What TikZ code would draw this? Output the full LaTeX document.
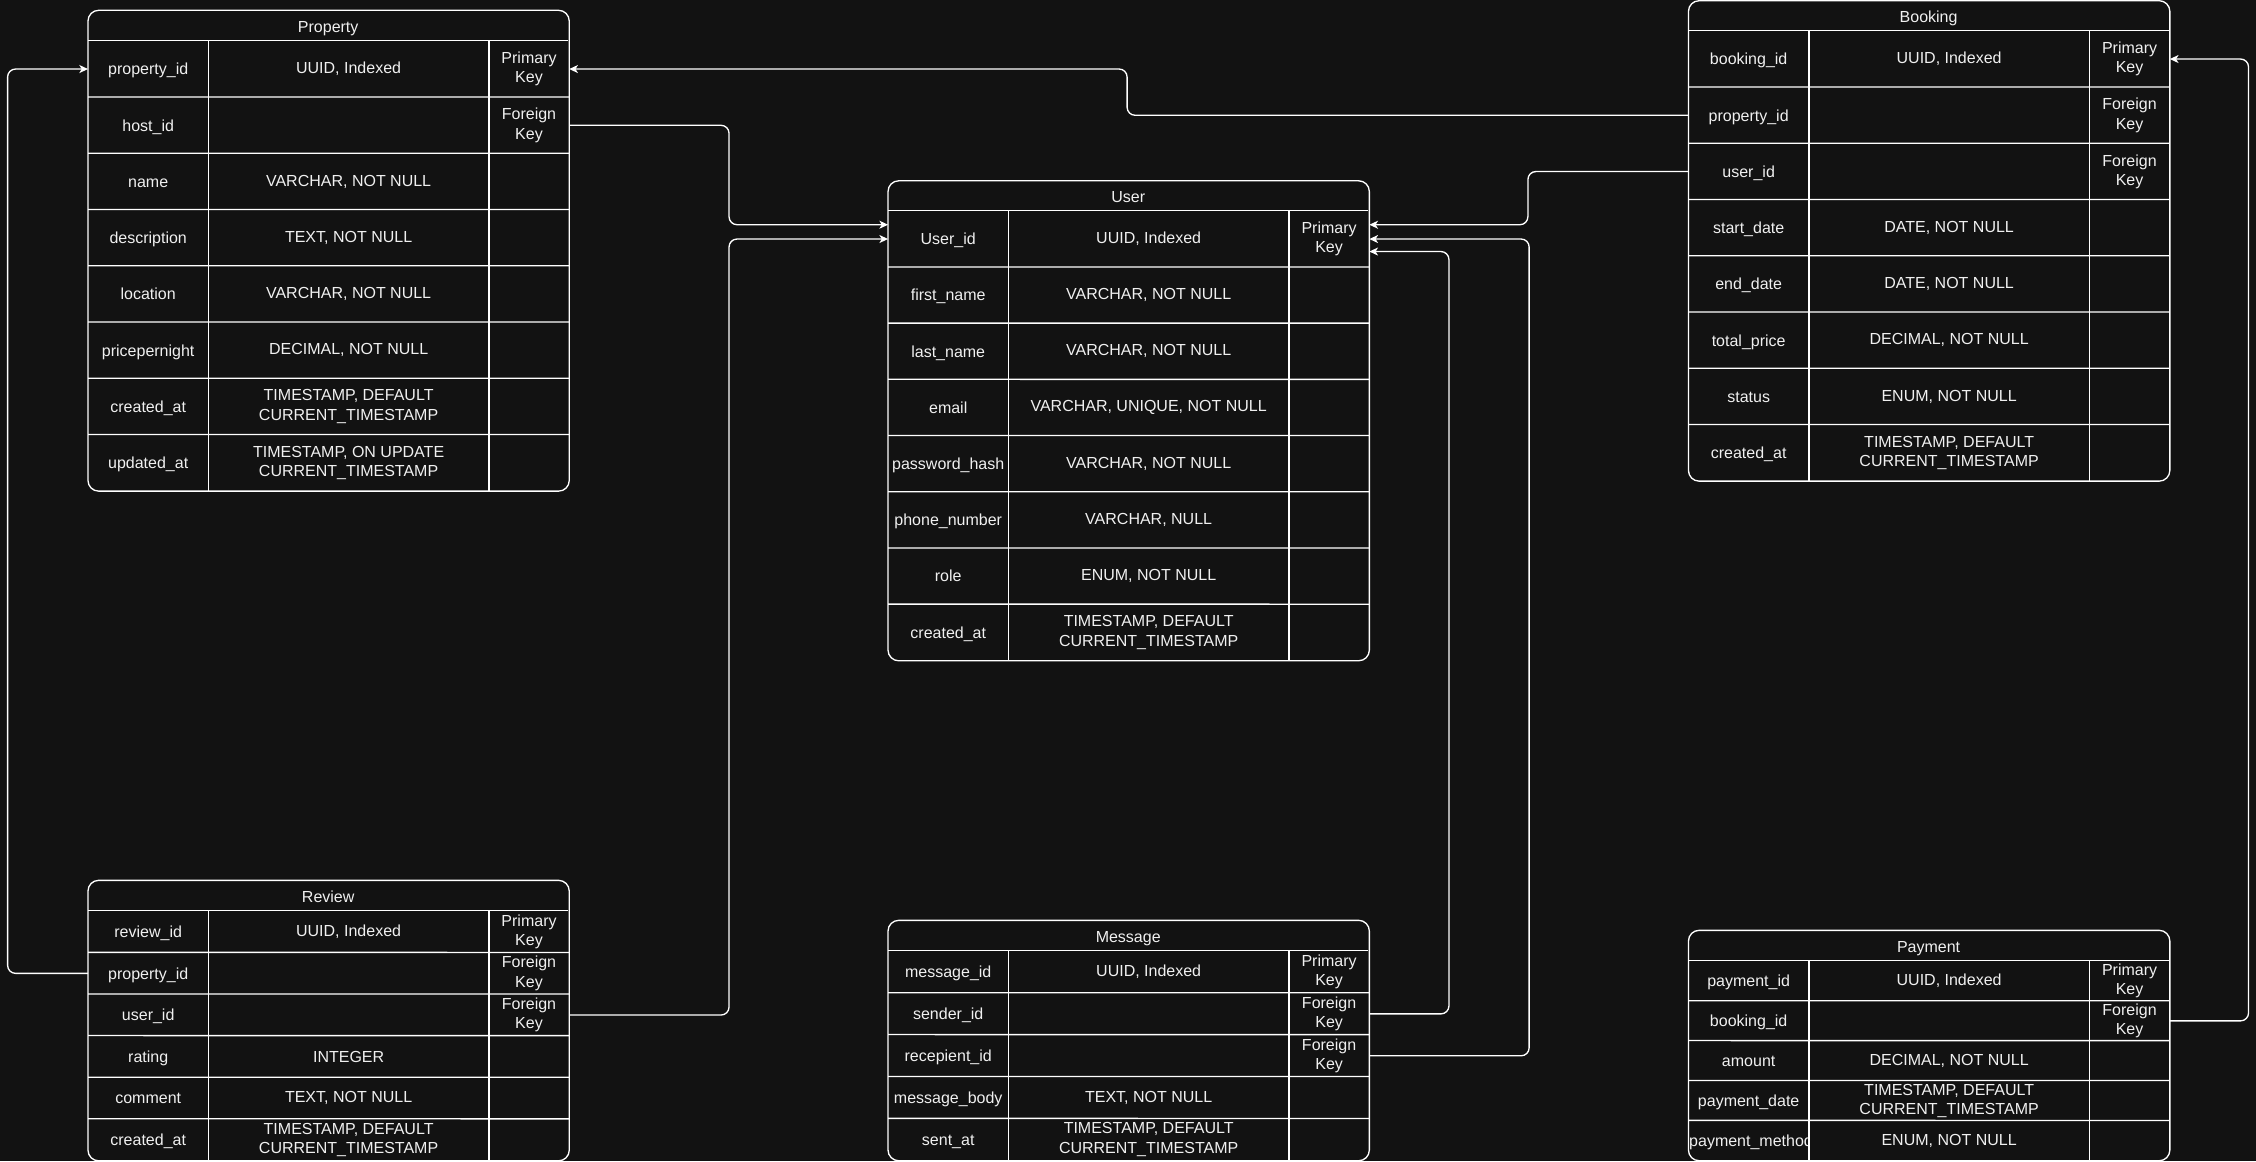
\documentclass[tikz,border=0pt]{standalone}
\usepackage{fontspec}
\setmainfont{Liberation Sans}
\usepackage{tikz}
\usetikzlibrary{arrows,arrows.meta,positioning,calc}
\usepackage{xcolor}
\definecolor{erdbg}{RGB}{18,18,18}
\definecolor{erdtext}{RGB}{240,240,240}
\tikzstyle{tableline} = [draw=white, line width=1pt]
\tikzstyle{tabletitle} = [minimum width=480pt, minimum height=30pt, inner sep=0pt, text height=13.4pt, text depth=0pt, text=erdtext, font=\fontsize{16}{19.2}\selectfont]
\tikzstyle{fieldname} = [minimum width=120pt, inner sep=0pt, align=center, text=erdtext, font=\fontsize{16}{19.2}\selectfont]
\tikzstyle{fieldtype} = [fieldname, minimum width=280pt]
\tikzstyle{fieldkey} = [fieldname, minimum width=80pt]
\tikzstyle{oneline} = [text height=11.5pt, text depth=0pt]
\tikzstyle{fklink} = [line width=1pt, white, ->, >={Stealth[length=6.5pt, width=6pt, inset=1.8pt]}, rounded corners=6pt]

\begin{document}
\begin{tikzpicture}[x=1pt, y=-1pt, scale=0.75, transform shape]
\fill[erdbg] (0,0) rectangle (2256,1161);
\useasboundingbox (0,0) rectangle (2256,1161);

% Property
\node (Ph) [tabletitle, anchor=north west] at (88,10.3) {Property};
\foreach \f/\t/\k [count=\i] in {property\_id/{UUID, Indexed}/{Primary\\Key}, host\_id/{}/{Foreign\\Key}, name/{VARCHAR, NOT NULL}/{}, description/{TEXT, NOT NULL}/{}, location/{VARCHAR, NOT NULL}/{}, pricepernight/{DECIMAL, NOT NULL}/{}, created\_at/{TIMESTAMP, DEFAULT\\CURRENT\_TIMESTAMP}/{}, updated\_at/{TIMESTAMP, ON UPDATE\\CURRENT\_TIMESTAMP}/{}} {
  \node (Pname\i) [fieldname, oneline, minimum height=56.25pt, anchor=north west] at ($(Ph.south west)+(0,{(\i-1)*56.25})$) {\f};
  \node (Ptype\i) [fieldtype, minimum height=56.25pt, right=0pt of Pname\i] {\t};
  \node (Pkey\i) [fieldkey, minimum height=56.25pt, right=0pt of Ptype\i] {\k};
}
\draw[tableline, rounded corners=8pt] (Ph.north west) rectangle (Pkey8.south east);
\draw[tableline] (Ph.south west) -- (Ph.south east);
\foreach \i in {2,...,8} \draw[tableline] (Pname\i.north west) -- (Pkey\i.north east);
\draw[tableline] (Pname1.north east) -- (Pname8.south east);
\draw[tableline] (Pkey1.north west) -- (Pkey8.south west);

% User
\node (Uh) [tabletitle, minimum height=29.5pt, anchor=north west] at (888,180.8) {User};
\foreach \f/\t/\k [count=\i] in {User\_id/{UUID, Indexed}/{Primary\\Key}, first\_name/{VARCHAR, NOT NULL}/{}, last\_name/{VARCHAR, NOT NULL}/{}, email/{VARCHAR, UNIQUE, NOT NULL}/{}, password\_hash/{VARCHAR, NOT NULL}/{}, phone\_number/{VARCHAR, NULL}/{}, role/{ENUM, NOT NULL}/{}, created\_at/{TIMESTAMP, DEFAULT\\CURRENT\_TIMESTAMP}/{}} {
  \node (Uname\i) [fieldname, oneline, minimum height=56.2pt, anchor=north west] at ($(Uh.south west)+(0,{(\i-1)*56.2})$) {\f};
  \node (Utype\i) [fieldtype, minimum height=56.2pt, right=0pt of Uname\i] {\t};
  \node (Ukey\i) [fieldkey, minimum height=56.2pt, right=0pt of Utype\i] {\k};
}
\draw[tableline, rounded corners=8pt] (Uh.north west) rectangle (Ukey8.south east);
\draw[tableline] (Uh.south west) -- (Uh.south east);
\foreach \i in {2,...,8} \draw[tableline] (Uname\i.north west) -- (Ukey\i.north east);
\draw[tableline] (Uname1.north east) -- (Uname8.south east);
\draw[tableline] (Ukey1.north west) -- (Ukey8.south west);

% Booking
\node (Bh) [tabletitle, minimum height=29.6pt, anchor=north west] at (1688.4,0.7) {Booking};
\foreach \f/\t/\k [count=\i] in {booking\_id/{UUID, Indexed}/{Primary\\Key}, property\_id/{}/{Foreign\\Key}, user\_id/{}/{Foreign\\Key}, start\_date/{DATE, NOT NULL}/{}, end\_date/{DATE, NOT NULL}/{}, total\_price/{DECIMAL, NOT NULL}/{}, status/{ENUM, NOT NULL}/{}, created\_at/{TIMESTAMP, DEFAULT\\CURRENT\_TIMESTAMP}/{}} {
  \node (Bname\i) [fieldname, oneline, minimum height=56.25pt, anchor=north west] at ($(Bh.south west)+(0,{(\i-1)*56.25})$) {\f};
  \node (Btype\i) [fieldtype, minimum height=56.25pt, right=0pt of Bname\i] {\t};
  \node (Bkey\i) [fieldkey, minimum height=56.25pt, right=0pt of Btype\i] {\k};
}
\draw[tableline, rounded corners=8pt] (Bh.north west) rectangle (Bkey8.south east);
\draw[tableline] (Bh.south west) -- (Bh.south east);
\foreach \i in {2,...,8} \draw[tableline] (Bname\i.north west) -- (Bkey\i.north east);
\draw[tableline] (Bname1.north east) -- (Bname8.south east);
\draw[tableline] (Bkey1.north west) -- (Bkey8.south west);

% Review
\node (Rh) [tabletitle, anchor=north west] at (88,880.3) {Review};
\foreach \f/\t/\k [count=\i] in {review\_id/{UUID, Indexed}/{Primary\\Key}, property\_id/{}/{Foreign\\Key}, user\_id/{}/{Foreign\\Key}, rating/{INTEGER}/{}, comment/{TEXT, NOT NULL}/{}, created\_at/{TIMESTAMP, DEFAULT\\CURRENT\_TIMESTAMP}/{}} {
  \node (Rname\i) [fieldname, oneline, minimum height=41.6pt, anchor=north west] at ($(Rh.south west)+(0,{(\i-1)*41.6})$) {\f};
  \node (Rtype\i) [fieldtype, minimum height=41.6pt, right=0pt of Rname\i] {\t};
  \node (Rkey\i) [fieldkey, minimum height=41.6pt, right=0pt of Rtype\i] {\k};
}
\draw[tableline, rounded corners=8pt] (Rh.north west) rectangle (Rkey6.south east);
\draw[tableline] (Rh.south west) -- (Rh.south east);
\foreach \i in {2,...,6} \draw[tableline] (Rname\i.north west) -- (Rkey\i.north east);
\draw[tableline] (Rname1.north east) -- (Rname6.south east);
\draw[tableline] (Rkey1.north west) -- (Rkey6.south west);

% Message
\node (Mh) [tabletitle, anchor=north west] at (888,920.3) {Message};
\foreach \f/\t/\k [count=\i] in {message\_id/{UUID, Indexed}/{Primary\\Key}, sender\_id/{}/{Foreign\\Key}, recepient\_id/{}/{Foreign\\Key}, message\_body/{TEXT, NOT NULL}/{}, sent\_at/{TIMESTAMP, DEFAULT\\CURRENT\_TIMESTAMP}/{}} {
  \node (Mname\i) [fieldname, oneline, minimum height=41.9pt, anchor=north west] at ($(Mh.south west)+(0,{(\i-1)*41.9})$) {\f};
  \node (Mtype\i) [fieldtype, minimum height=41.9pt, right=0pt of Mname\i] {\t};
  \node (Mkey\i) [fieldkey, minimum height=41.9pt, right=0pt of Mtype\i] {\k};
}
\draw[tableline, rounded corners=8pt] (Mh.north west) rectangle (Mkey5.south east);
\draw[tableline] (Mh.south west) -- (Mh.south east);
\foreach \i in {2,...,5} \draw[tableline] (Mname\i.north west) -- (Mkey\i.north east);
\draw[tableline] (Mname1.north east) -- (Mname5.south east);
\draw[tableline] (Mkey1.north west) -- (Mkey5.south west);

% Payment
\node (Yh) [tabletitle, anchor=north west] at (1688.4,930.3) {Payment};
\foreach \f/\t/\k [count=\i] in {payment\_id/{UUID, Indexed}/{Primary\\Key}, booking\_id/{}/{Foreign\\Key}, amount/{DECIMAL, NOT NULL}/{}, payment\_date/{TIMESTAMP, DEFAULT\\CURRENT\_TIMESTAMP}/{}, {}/{ENUM, NOT NULL}/{}} {
  \node (Yname\i) [fieldname, oneline, minimum height=39.9pt, anchor=north west] at ($(Yh.south west)+(0,{(\i-1)*39.9})$) {\f};
  \node (Ytype\i) [fieldtype, minimum height=39.9pt, right=0pt of Yname\i] {\t};
  \node (Ykey\i) [fieldkey, minimum height=39.9pt, right=0pt of Ytype\i] {\k};
}
\begin{scope}
  \clip (Yname5.north west) rectangle (Yname5.south east);
  \node (Ymethod) [fieldname, oneline, minimum width=0pt, anchor=base west] at ($(Yname5.west)+(0.5,5.75)$) {payment\_method};
\end{scope}
\draw[tableline, rounded corners=8pt] (Yh.north west) rectangle (Ykey5.south east);
\draw[tableline] (Yh.south west) -- (Yh.south east);
\foreach \i in {2,...,5} \draw[tableline] (Yname\i.north west) -- (Ykey\i.north east);
\draw[tableline] (Yname1.north east) -- (Yname5.south east);
\draw[tableline] (Ykey1.north west) -- (Ykey5.south west);

% Relations
\draw[fklink] (Bname2.west) -- ++(-561.4,0) |- (Pkey1.east);
\draw[fklink] (Rname2.west) -- ++(-80.4,0) |- (Pname1.west);
\draw[fklink] (Pkey2.east) -- ++(159.8,0) |- ($(Uname1.west)+(0,-14.3)$);
\draw[fklink] (Rkey3.east) -- ++(159.8,0) |- (Uname1.west);
\draw[fklink] (Bname3.west) -- ++(-160.6,0) |- ($(Ukey1.east)+(0,-14.3)$);
\draw[fklink] (Mkey3.east) -- ++(159.8,0) |- (Ukey1.east);
\draw[fklink] (Mkey2.east) -- ++(79.6,0) |- ($(Ukey1.east)+(0,12.5)$);
\draw[fklink] (Ykey2.east) -- ++(78.7,0) |- (Bkey1.east);
\end{tikzpicture}
\end{document}
